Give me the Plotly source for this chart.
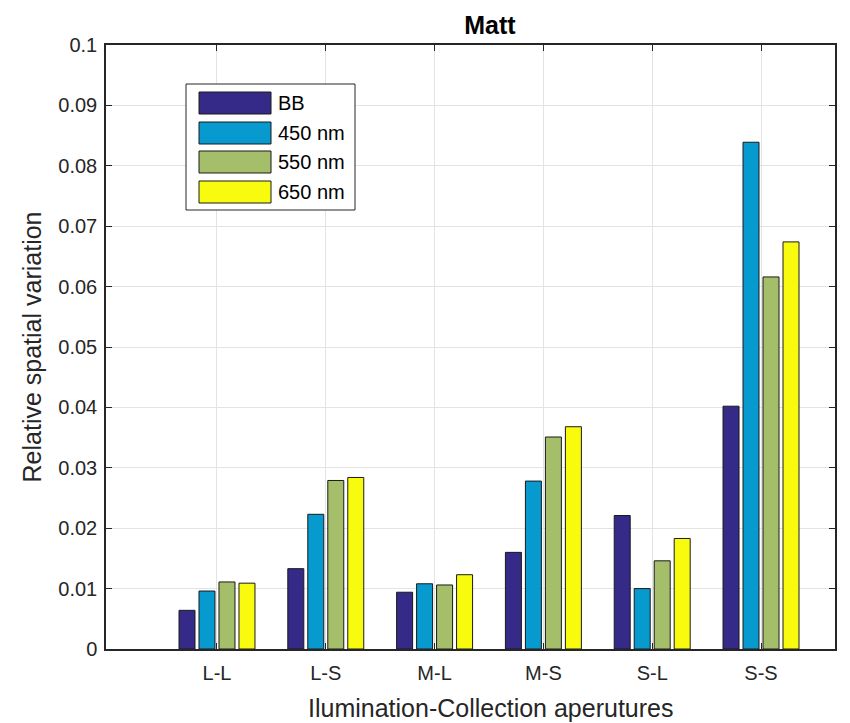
import plotly.graph_objects as go

categories = ["L-L", "L-S", "M-L", "M-S", "S-L", "S-S"]
series_names = ["BB", "450 nm", "550 nm", "650 nm"]
bb = [0.0064, 0.0133, 0.0094, 0.0160, 0.0221, 0.0402]
nm450 = [0.0096, 0.0223, 0.0108, 0.0278, 0.0100, 0.0839]
nm550 = [0.0111, 0.0279, 0.0106, 0.0351, 0.0146, 0.0616]
nm650 = [0.0109, 0.0284, 0.0123, 0.0368, 0.0183, 0.0674]
yticks = [0, 0.01, 0.02, 0.03, 0.04, 0.05, 0.06, 0.07, 0.08, 0.09, 0.1]
ytick_labels = ["0", "0.01", "0.02", "0.03", "0.04", "0.05", "0.06", "0.07", "0.08", "0.09", "0.1"]
x_title = "Ilumination-Collection aperutures"
y_title = "Relative spatial variation"

colors = ["#352A87", "#069ACF", "#A5BE6A", "#F9FB0E"]
values = [bb, nm450, nm550, nm650]
xpos = list(range(1, len(categories) + 1))

FONT = "Liberation Sans, Arial, sans-serif"
# the page body has an 8px margin; the figure is sized to fill the rest
OFF = 8
W, H = 850 - OFF, 723 - OFF
# plot area in window pixels
L, R, T, B = 106, 835, 45, 649

fig = go.Figure()
for name, vals, col in zip(series_names, values, colors):
    fig.add_trace(go.Bar(
        x=xpos, y=vals, name=name,
        marker=dict(color=col, line=dict(color="#1a1a1a", width=1)),
        showlegend=False,
    ))

def px(x):
    return (x - L) / (R - L)

def py(y):
    return (B - y) / (B - T)

shapes = []
annotations = []
# legend box
shapes.append(dict(type="rect", xref="paper", yref="paper",
                   x0=px(186), x1=px(355), y0=py(210), y1=py(84),
                   line=dict(color="#262626", width=1), fillcolor="white", layer="above"))
row_tops = [92, 122, 151, 181]
for name, col, top in zip(series_names, colors, row_tops):
    shapes.append(dict(type="rect", xref="paper", yref="paper",
                       x0=px(199), x1=px(271), y0=py(top + 22), y1=py(top),
                       line=dict(color="#1a1a1a", width=1), fillcolor=col, layer="above"))
    annotations.append(dict(xref="paper", yref="paper", x=px(276), y=py(top + 11),
                            text=name, showarrow=False, xanchor="left", yanchor="middle",
                            font=dict(family=FONT, size=20, color="#000000")))
# x-axis title
annotations.append(dict(xref="paper", yref="paper", x=px(490), y=py(708),
                        text=x_title, showarrow=False, xanchor="center", yanchor="middle",
                        font=dict(family=FONT, size=25, color="#262626")))

fig.update_layout(
    width=W, height=H,
    margin=dict(l=L - OFF, r=850 - R, t=T - OFF, b=723 - B, pad=0),
    paper_bgcolor="white", plot_bgcolor="white",
    barmode="group", bargap=0.265, bargroupgap=0.2,
    title=dict(text="<b>Matt</b>", x=(490 - OFF) / W, xanchor="center",
               y=1 - (25 - OFF) / H, yanchor="middle",
               font=dict(family=FONT, size=25, color="#000000")),
    font=dict(family=FONT, size=20, color="#262626"),
    shapes=shapes, annotations=annotations,
    showlegend=False,
)
fig.update_xaxes(
    range=[-0.02, 6.68], tickmode="array", tickvals=xpos, ticktext=categories,
    showline=True, linecolor="#262626", linewidth=1.5, mirror="ticks",
    ticks="inside", ticklen=6, tickcolor="#262626", ticklabelstandoff=5,
    showgrid=True, gridcolor="#e3e3e3", gridwidth=1, zeroline=False,
    tickfont=dict(family=FONT, size=20, color="#262626"),
    automargin=False,
)
fig.update_yaxes(
    range=[0, 0.1], tickmode="array", tickvals=yticks, ticktext=ytick_labels,
    showline=True, linecolor="#262626", linewidth=1.5, mirror="ticks",
    ticks="inside", ticklen=6, tickcolor="#262626", ticklabelstandoff=3,
    showgrid=True, gridcolor="#e3e3e3", gridwidth=1, zeroline=False,
    tickfont=dict(family=FONT, size=20, color="#262626"),
    title=dict(text=y_title, standoff=10,
               font=dict(family=FONT, size=25, color="#262626")),
    automargin=False,
)

fig.write_html("out.html")
